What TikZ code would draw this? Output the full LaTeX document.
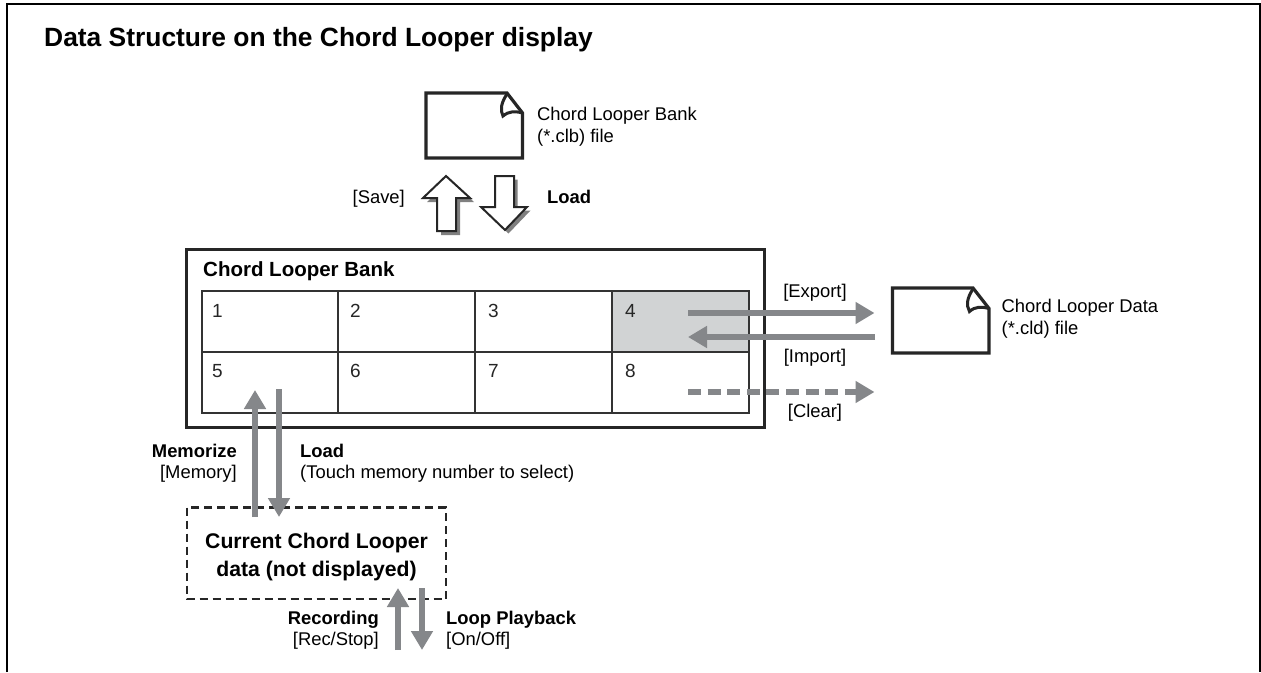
\documentclass[tikz,border=0pt]{standalone}
\usepackage{fontspec}
\setmainfont{Liberation Sans}
\usetikzlibrary{arrows.meta}
\definecolor{arrowgray}{RGB}{133,135,138}
\definecolor{cellgray}{RGB}{209,211,212}
\tikzset{
	filebox/.style={draw=black!85, line width=3.2pt},
	foldline/.style={draw=black!85, line width=3pt},
	cellbox/.style={draw=black!80, line width=2pt},
	cellnum/.style={anchor=base west, inner sep=0pt, font=\fontsize{19}{22}\selectfont, text=black!85},
	lbl/.style={inner sep=0pt, align=left, font=\fontsize{18.4}{21.5}\selectfont},
	bigarrow/.style={draw=black!85, fill=white, line width=2pt},
	arrowshadow/.style={fill=black!50, draw=none},
	flowarrow/.style={draw=arrowgray, line width=6.5pt, -{Triangle[length=19pt,width=21pt]}},
}
\begin{document}
\begin{tikzpicture}[x=1pt,y=-1pt, line join=miter]
	\useasboundingbox (0,0) rectangle (1261,672);
	\fill[white] (0,0) rectangle (1261,672);
	% outer frame
	\draw[line width=2.5pt] (7.2,672) -- (7.2,4.2) -- (1260,4.2) -- (1260,672);
	\node[anchor=base west, inner sep=0pt, font=\fontsize{26.4}{30}\selectfont\bfseries] (title) at (44,46.8) {Data Structure on the Chord Looper display};
	% clb file
	\draw[filebox] (426,93) -- (507,93) -- (522.5,113) -- (522.5,158) -- (426,158) -- cycle;
	\draw[foldline] (507,94) .. controls (501,103) and (500,110) .. (503,116) .. controls (509,111) and (515,111) .. (522.5,113);
	\node[lbl, anchor=north west] (clbtext) at (537,107.3) {Chord Looper Bank\\(*.clb) file};
	% save, load arrows
	\fill[arrowshadow, shift={(4,4)}] (423,198) -- (446,176) -- (470,198) -- (456,198) -- (456,231) -- (437,231) -- (437,198) -- cycle;
	\draw[bigarrow] (423,198) -- (446,176) -- (470,198) -- (456,198) -- (456,231) -- (437,231) -- (437,198) -- cycle;
	\fill[arrowshadow, shift={(3.5,3.5)}] (495,176) -- (514,176) -- (514,207) -- (527,207) -- (505,230) -- (481,207) -- (495,207) -- cycle;
	\draw[bigarrow] (495,176) -- (514,176) -- (514,207) -- (527,207) -- (505,230) -- (481,207) -- (495,207) -- cycle;
	\node[lbl, anchor=base east] (save) at (405,203) {[Save]};
	\node[lbl, anchor=base west, font=\fontsize{18.4}{21.5}\selectfont\bfseries] (loadtop) at (547,203) {Load};
	% bank
	\draw[draw=black!85, line width=3pt] (186.5,249) rectangle (764,427);
	\node[lbl, anchor=base west, font=\fontsize{20.5}{24}\selectfont\bfseries] (banktitle) at (203,276) {Chord Looper Bank};
	\fill[cellgray] (611.5,291) rectangle (748.5,351.5);
	\draw[cellbox] (201.5,291) rectangle (748.5,413);
	\draw[cellbox] (201.5,351.5) -- (748.5,351.5);
	\draw[cellbox] (338,291) -- (338,413);
	\draw[cellbox] (474.5,291) -- (474.5,413);
	\draw[cellbox] (611.5,291) -- (611.5,413);
	\foreach \num/\cx/\cy in {1/212/317,2/350/317,3/488/317,4/625/317,5/212/377,6/350/377,7/488/377,8/625/377}
		\node[cellnum] (cell\num) at (\cx,\cy) {\num};
	% cld file
	\draw[filebox] (892.5,288) -- (973,288) -- (989,308.5) -- (989,353) -- (892.5,353) -- cycle;
	\draw[foldline] (973,289) .. controls (967,298) and (966,305) .. (969.5,311.5) .. controls (975,306.5) and (981,306.5) .. (989,308.5);
	\node[lbl, anchor=north west] (cldtext) at (1001.5,299) {Chord Looper Data\\(*.cld) file};
	% export, import, clear
	\coordinate (expa) at (688,313);
	\coordinate (expb) at (874.5,313);
	\coordinate (impa) at (875,337);
	\coordinate (impb) at (688,337);
	\coordinate (cla) at (688,392);
	\coordinate (clb) at (874.5,392);
	\draw[flowarrow] (expa) -- (expb);
	\draw[flowarrow] (impa) -- (impb);
	\draw[flowarrow, dash pattern=on 13pt off 6.6pt] (cla) -- (clb);
	\node[lbl, anchor=base] (export) at (815,297) {[Export]};
	\node[lbl, anchor=base] (import) at (815,362.5) {[Import]};
	\node[lbl, anchor=base] (clear) at (815,417) {[Clear]};
	% current data
	\draw[line width=2.4pt, draw=black!85, dash pattern=on 8pt off 5pt] (187,507.5) rectangle (446,599);
	\node[align=center, inner sep=0pt, anchor=north, font=\fontsize{21.2}{28}\selectfont\bfseries] (current) at (316.5,532.8) {Current Chord Looper\\data (not displayed)};
	\coordinate (mema) at (255,517);
	\coordinate (memb) at (255,390);
	\coordinate (loa) at (279,389);
	\coordinate (lob) at (279,517);
	\draw[flowarrow] (mema) -- (memb);
	\draw[flowarrow] (loa) -- (lob);
	\node[lbl, anchor=north east, align=right] (memo) at (237,443.6) {\textbf{Memorize}\\{}[Memory]};
	\node[lbl, anchor=north west] (loadlow) at (300,443.6) {\textbf{Load}\\(Touch memory number to select)};
	\coordinate (reca) at (398,650);
	\coordinate (recb) at (398,588);
	\coordinate (lpa) at (422,588);
	\coordinate (lpb) at (422,650);
	\draw[flowarrow] (reca) -- (recb);
	\draw[flowarrow] (lpa) -- (lpb);
	\node[lbl, anchor=north east, align=right] (rec) at (379,610.6) {\textbf{Recording}\\{}[Rec/Stop]};
	\node[lbl, anchor=north west] (lp) at (446,610.6) {\textbf{Loop Playback}\\{}[On/Off]};
\end{tikzpicture}
\end{document}
